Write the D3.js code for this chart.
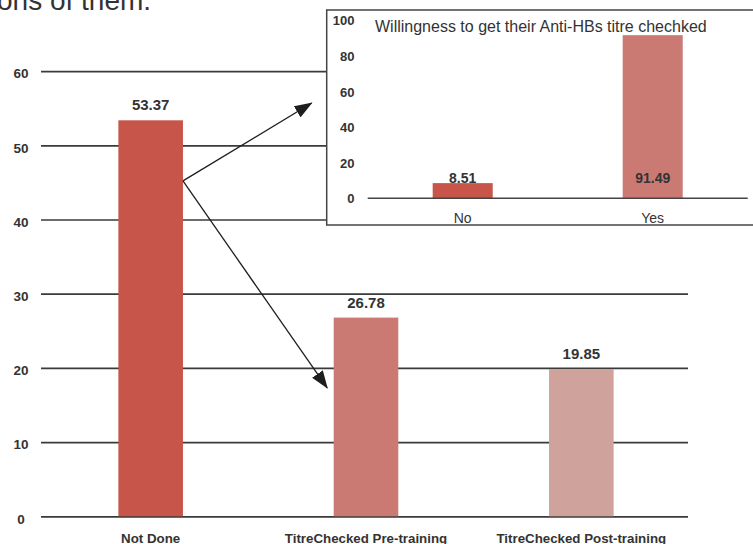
<!DOCTYPE html>
<html>
<head>
<meta charset="utf-8">
<script src="https://cdn.jsdelivr.net/npm/d3@7"></script>
<style>
  html, body { margin: 0; padding: 0; background: #fff; }
  svg { display: block; font-family: "Liberation Sans", Arial, Helvetica, sans-serif; }
</style>
</head>
<body>
<svg id="chart" width="753" height="544"></svg>
<script>
// Anti-HBs titre status (%)
const categories = ["Not Done", "TitreChecked Pre-training", "TitreChecked Post-training"];
const values = [53.37, 26.78, 19.85];
const barColors = ["#c8554a", "#cb7a73", "#d0a29c"];
const yTicks = [0, 10, 20, 30, 40, 50, 60];

// Inset: willingness to get the titre checked (%)
const insetCategories = ["No", "Yes"];
const insetValues = [8.51, 91.49];
const insetColors = ["#c8554a", "#cb7a73"];
const insetTicks = [0, 20, 40, 60, 80, 100];
const insetTitle = "Willingness to get their Anti-HBs titre chechked";

const svg = d3.select("#chart");

// Clipped heading that runs off the top edge
svg.append("text")
  .attr("x", -3).attr("y", 10)
  .attr("font-size", 28).attr("fill", "#333")
  .text("ons of them.");

// ---------- main chart ----------
const y = d3.scaleLinear().domain([0, 60]).range([516.3, 71.1]);
const x = d3.scaleBand().domain(categories).range([43, 689])
  .paddingInner(0.7).paddingOuter(0.35);

const gridLeft = 41, gridRight = 688;
const yAxis = svg.append("g")
  .attr("transform", `translate(${gridLeft},0)`)
  .call(d3.axisLeft(y).tickValues(yTicks).tickSize(-(gridRight - gridLeft)).tickPadding(0));
yAxis.select(".domain").remove();
yAxis.selectAll(".tick line").attr("stroke", "#3a3a3a").attr("stroke-width", 1.7);
yAxis.selectAll(".tick text")
  .attr("x", -20).attr("dy", "0.5em")
  .attr("text-anchor", "middle")
  .attr("font-size", 13.5).attr("font-weight", "bold")
  .attr("font-family", "\"Liberation Sans\", Arial, sans-serif")
  .attr("fill", "#333");

svg.append("g").selectAll("rect").data(values).join("rect")
  .attr("x", (d, i) => x(categories[i]))
  .attr("width", x.bandwidth())
  .attr("y", d => y(d))
  .attr("height", d => y(0) - y(d))
  .attr("fill", (d, i) => barColors[i]);

svg.append("g").selectAll("text").data(values).join("text")
  .attr("x", (d, i) => x(categories[i]) + x.bandwidth() / 2)
  .attr("y", d => y(d) - 10)
  .attr("text-anchor", "middle")
  .attr("font-size", 15).attr("font-weight", "bold").attr("fill", "#333")
  .text(d => d.toFixed(2));

svg.append("g").selectAll("text").data(categories).join("text")
  .attr("x", d => x(d) + x.bandwidth() / 2)
  .attr("y", 543)
  .attr("text-anchor", "middle")
  .attr("font-size", 13.3).attr("font-weight", "bold").attr("fill", "#333")
  .text(d => d);

// ---------- inset panel ----------
const box = { x: 326.7, y: 10, w: 440, h: 215 };
svg.append("rect")
  .attr("x", box.x).attr("y", box.y).attr("width", box.w).attr("height", box.h)
  .attr("fill", "#fff").attr("stroke", "#444").attr("stroke-width", 1.5);

const yi = d3.scaleLinear().domain([0, 100]).range([198.3, 20]);
const xi = d3.scaleBand().domain(insetCategories).range([367.7, 747.7])
  .paddingInner(0.684).paddingOuter(0.342);

const insetAxis = svg.append("g")
  .attr("transform", "translate(354.5,0)")
  .call(d3.axisLeft(yi).tickValues(insetTicks).tickSize(0).tickPadding(0));
insetAxis.select(".domain").remove();
insetAxis.selectAll(".tick text")
  .attr("dy", "0.36em")
  .attr("font-size", 13).attr("font-weight", "bold")
  .attr("font-family", "\"Liberation Sans\", Arial, sans-serif")
  .attr("fill", "#333");

svg.append("text")
  .attr("x", 375).attr("y", 32)
  .attr("font-size", 16).attr("fill", "#333")
  .text(insetTitle);

svg.append("g").selectAll("rect").data(insetValues).join("rect")
  .attr("x", (d, i) => xi(insetCategories[i]))
  .attr("width", xi.bandwidth())
  .attr("y", d => yi(d))
  .attr("height", d => yi(0) - yi(d))
  .attr("fill", (d, i) => insetColors[i]);

svg.append("line")
  .attr("x1", 367.7).attr("x2", 747.7)
  .attr("y1", yi(0)).attr("y2", yi(0))
  .attr("stroke", "#444").attr("stroke-width", 1.5);

svg.append("g").selectAll("text").data(insetValues).join("text")
  .attr("x", (d, i) => xi(insetCategories[i]) + xi.bandwidth() / 2)
  .attr("y", yi(0) - 15)
  .attr("text-anchor", "middle")
  .attr("font-size", 14).attr("font-weight", "bold").attr("fill", "#333")
  .text(d => d.toFixed(2));

svg.append("g").selectAll("text").data(insetCategories).join("text")
  .attr("x", d => xi(d) + xi.bandwidth() / 2)
  .attr("y", 222.5)
  .attr("text-anchor", "middle")
  .attr("font-size", 14).attr("fill", "#333")
  .text(d => d);

// ---------- arrows from the "Not Done" bar ----------
const defs = svg.append("defs");
defs.append("marker")
  .attr("id", "head")
  .attr("viewBox", "0 -7 18 14")
  .attr("markerUnits", "userSpaceOnUse")
  .attr("markerWidth", 18).attr("markerHeight", 14)
  .attr("refX", 17).attr("refY", 0)
  .attr("orient", "auto")
  .append("path").attr("d", "M0,-6.5L18,0L0,6.5Z").attr("fill", "#1e1e1e");

const origin = [x(categories[0]) + x.bandwidth(), y(45.2)];
const targets = [
  [box.x - 15, y(55.7)],
  [x(categories[1]) - 6.5, y(17.3)]
];
svg.append("g").selectAll("line").data(targets).join("line")
  .attr("x1", origin[0]).attr("y1", origin[1])
  .attr("x2", d => d[0]).attr("y2", d => d[1])
  .attr("stroke", "#1e1e1e").attr("stroke-width", 1.3)
  .attr("marker-end", "url(#head)");
</script>
</body>
</html>
